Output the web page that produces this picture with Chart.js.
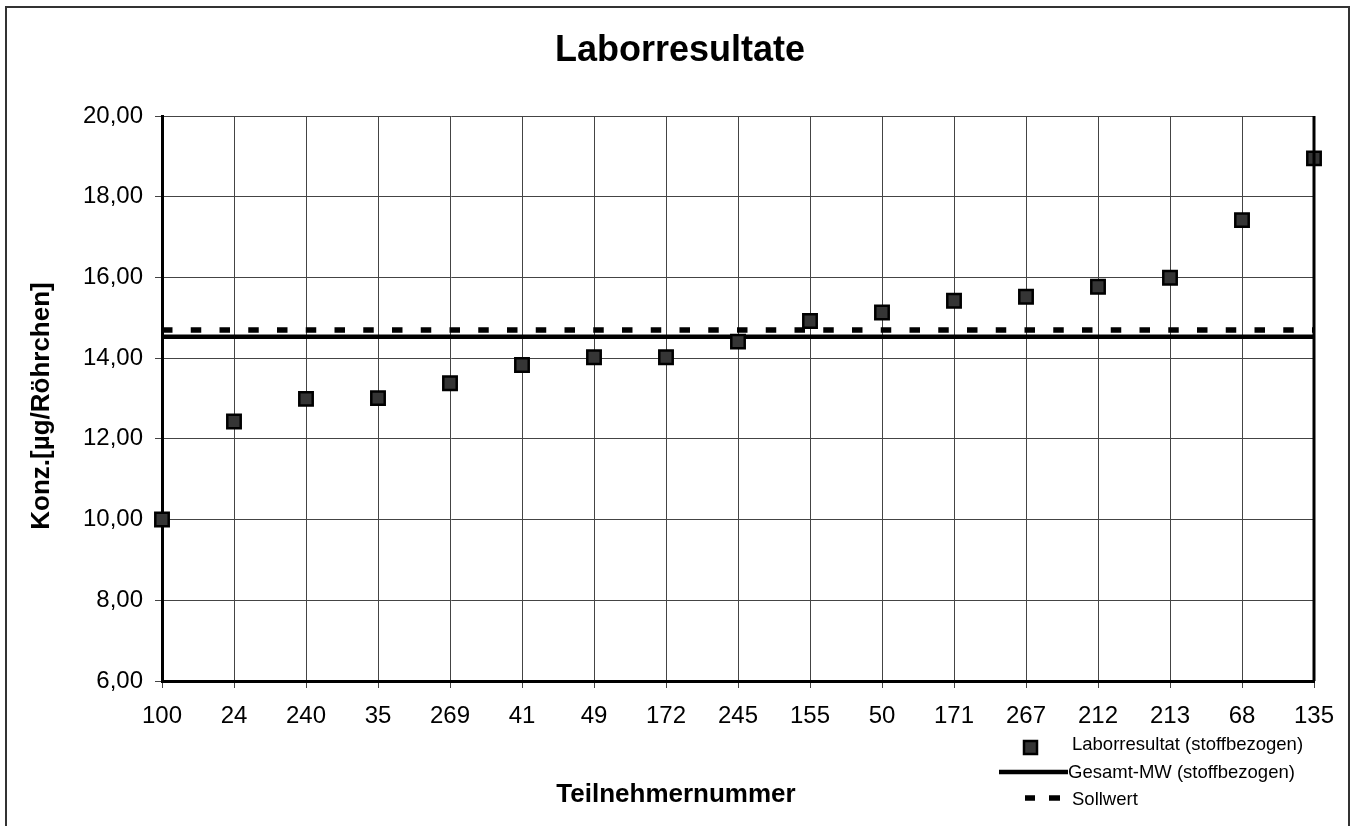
<!DOCTYPE html>
<html lang="de">

<head>
    <meta charset="UTF-8" />
    <title>Laborresultate</title>
    <style>
        body {
            margin: 0;
            background: #fff;
        }

        #wrap {
            width: 1356px;
            height: 826px;
        }
    </style>
    <script src="https://cdn.jsdelivr.net/npm/chart.js"></script>
</head>

<body>
    <div id="wrap"><canvas id="grafik" width="1356" height="826"></canvas></div>

    <script>
        // Teilnehmer (x-Achse) und Messwerte
        const teilnehmer = ['100', '24', '240', '35', '269', '41', '49', '172', '245', '155', '50', '171', '267', '212', '213', '68', '135'];
        const laborresultat = [10.00, 12.43, 12.99, 13.01, 13.38, 13.83, 14.02, 14.02, 14.41, 14.92, 15.13, 15.42, 15.52, 15.77, 15.99, 17.42, 18.95];
        const gesamtMW = 14.53;
        const sollwert = 14.70;
        const yTicks = [6, 8, 10, 12, 14, 16, 18, 20];

        const schrift = "'Liberation Sans', Arial, sans-serif";

        // Rahmen, Titel und Legende wie im Excel-Diagramm
        const rahmenPlugin = {
            id: 'rahmen',
            afterDraw(chart) {
                const ctx = chart.ctx;
                const a = chart.chartArea;
                ctx.save();
                // äusserer Rahmen
                ctx.strokeStyle = '#333';
                ctx.lineWidth = 2;
                ctx.beginPath();
                ctx.moveTo(6, 830);
                ctx.lineTo(6, 7);
                ctx.lineTo(1349, 7);
                ctx.lineTo(1349, 830);
                ctx.stroke();
                // rechter Rand der Zeichenfläche
                ctx.strokeStyle = '#000';
                ctx.lineWidth = 3;
                ctx.beginPath();
                ctx.moveTo(a.right, a.top);
                ctx.lineTo(a.right, a.bottom);
                ctx.stroke();

                ctx.fillStyle = '#000';
                ctx.textAlign = 'center';
                ctx.textBaseline = 'middle';
                ctx.font = 'bold 36px ' + schrift;
                ctx.fillText('Laborresultate', 680, 51);
                ctx.font = 'bold 26px ' + schrift;
                ctx.fillText('Teilnehmernummer', 676, 795);
                ctx.save();
                ctx.translate(42, 406);
                ctx.rotate(-Math.PI / 2);
                ctx.fillText('Konz.[µg/Röhrchen]', 0, 0);
                ctx.restore();

                // Legende
                const ds = chart.data.datasets;
                ctx.font = '18.5px ' + schrift;
                ctx.textAlign = 'left';
                ctx.fillStyle = ds[0].backgroundColor;
                ctx.strokeStyle = ds[0].borderColor;
                ctx.lineWidth = 2.5;
                ctx.fillRect(1024, 741, 13, 13);
                ctx.strokeRect(1024, 741, 13, 13);
                ctx.fillStyle = '#000';
                ctx.fillText(ds[0].label, 1072, 745);

                ctx.strokeStyle = ds[1].borderColor;
                ctx.lineWidth = ds[1].borderWidth;
                ctx.beginPath();
                ctx.moveTo(999, 772);
                ctx.lineTo(1068, 772);
                ctx.stroke();
                ctx.fillText(ds[1].label, 1068, 773);

                ctx.lineWidth = ds[2].borderWidth;
                ctx.beginPath();
                ctx.moveTo(1025, 798);
                ctx.lineTo(1035, 798);
                ctx.moveTo(1049, 798);
                ctx.lineTo(1060, 798);
                ctx.stroke();
                ctx.fillText(ds[2].label, 1072, 800);
                ctx.restore();
            }
        };

        new Chart(document.getElementById('grafik'), {
            type: 'line',
            data: {
                labels: teilnehmer,
                datasets: [{
                    label: 'Laborresultat (stoffbezogen)',
                    data: laborresultat,
                    showLine: false,
                    pointStyle: 'rect',
                    pointRadius: 9.5,
                    pointBackgroundColor: '#353535',
                    pointBorderColor: '#000',
                    pointBorderWidth: 2.5,
                    backgroundColor: '#353535',
                    borderColor: '#000'
                }, {
                    label: 'Gesamt-MW (stoffbezogen)',
                    data: teilnehmer.map(() => gesamtMW),
                    borderColor: '#000',
                    borderWidth: 4.5,
                    pointRadius: 0,
                    fill: false
                }, {
                    label: 'Sollwert',
                    data: teilnehmer.map(() => sollwert),
                    borderColor: '#000',
                    borderWidth: 5.5,
                    borderDash: [10.5, 18.25],
                    pointRadius: 0,
                    fill: false
                }]
            },
            options: {
                responsive: false,
                devicePixelRatio: 1,
                animation: false,
                layout: { padding: { left: 0, top: 116, right: 42, bottom: 0 } },
                plugins: {
                    legend: { display: false },
                    title: { display: false },
                    tooltip: { enabled: false }
                },
                scales: {
                    x: {
                        offset: false,
                        afterFit: s => { s.height = 145; },
                        grid: { color: '#444', lineWidth: 1, tickLength: 7 },
                        border: { display: true, color: '#000', width: 3 },
                        ticks: {
                            color: '#000',
                            padding: 14,
                            maxRotation: 0,
                            autoSkip: false,
                            font: { family: schrift, size: 24 }
                        }
                    },
                    y: {
                        min: yTicks[0],
                        max: yTicks[yTicks.length - 1],
                        afterFit: s => { s.width = 162; },
                        afterBuildTicks: s => { s.ticks = yTicks.map(v => ({ value: v })); },
                        grid: { color: '#444', lineWidth: 1, tickLength: 7 },
                        border: { display: true, color: '#000', width: 3 },
                        ticks: {
                            color: '#000',
                            padding: 12,
                            font: { family: schrift, size: 24 },
                            callback: v => v.toFixed(2).replace('.', ',')
                        }
                    }
                }
            },
            plugins: [rahmenPlugin]
        });
    </script>
</body>

</html>
